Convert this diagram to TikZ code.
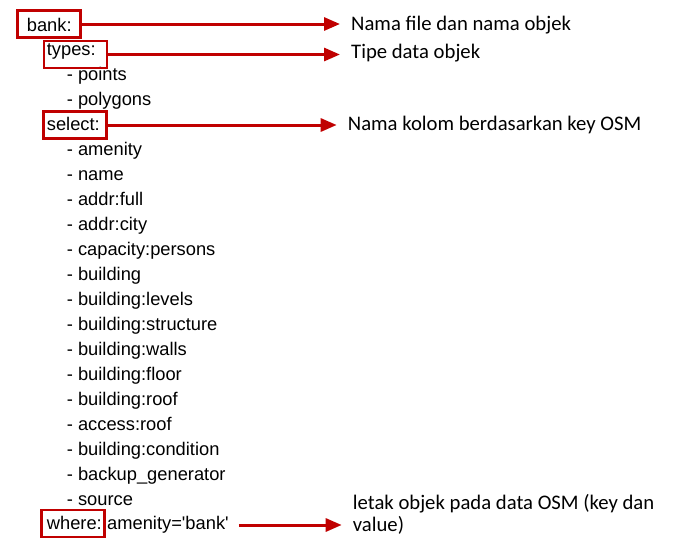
\documentclass[tikz,border=0pt]{standalone}
\usepackage{fontspec}
\setmainfont{Liberation Sans}
\newfontfamily\notefont{Carlito}
\usepackage{xcolor}
\usetikzlibrary{positioning}
\usetikzlibrary{arrows.meta}
\definecolor{osmred}{HTML}{C00000}

\begin{document}
\begin{tikzpicture}[x=1pt,y=-1pt,keybox/.style={draw=osmred,line width=2.2pt,minimum width=63pt,minimum height=27pt,inner sep=0pt},pointer/.style={draw=osmred,line width=3pt,-{Triangle[length=16pt,width=13pt]}},note/.style={anchor=base west,inner xsep=11pt,inner ysep=0pt,font=\notefont\fontsize{20.7}{22.4}\selectfont}]
            \useasboundingbox (0,0) rectangle (689,542);
            \begin{scope}[every node/.style={anchor=base west,inner sep=0pt,text height=13pt,text depth=4pt,font=\fontsize{18.3}{25}\selectfont}]
              \node (bank) at (26.7,31) {bank:};
              \node (types) at (46.7,55) {types:};
              \node (points) at (66.7,80) {- points};
              \node (polygons) at (66.7,105) {- polygons};
              \node (select) at (46.7,130) {select:};
              \foreach \attr [count=\i] in {amenity,name,addr:full,addr:city,capacity:persons,building,building:levels,building:structure,building:walls,building:floor,building:roof,access:roof,building:condition,backup\_generator,source}
                \node (attr\i) at (66.7,130+25*\i) {- \attr};
              \node (where) at (46.7,529.5) {where:};
              \node[right=5pt of where] (whereval) {amenity=\textquotesingle bank\textquotesingle};
            \end{scope}
            \node[keybox] (bankbox) at (49,24) {};
            \node[keybox] (typesbox) at (75.8,54.5) {};
            \node[keybox] (selectbox) at (75,125) {};
            \node[keybox] (wherebox) at (73,523.5) {};
            \node[note] (banknote) at (340,30.7) {Nama file dan nama objek};
            \node[note] (typesnote) at (340,58.3) {Tipe data objek};
            \node[note] (selectnote) at (336.7,130.7) {Nama kolom berdasarkan key OSM};
            \node[note,align=left] (wherenote) at (341.7,531.7) {letak objek pada data OSM (key dan\\value)};
            \draw[pointer] (bankbox.east) -- (bankbox.east -| banknote.west);
            \draw[pointer] (typesbox.east) -- (typesbox.east -| typesnote.west);
            \draw[pointer] (selectbox.east) -- (selectbox.east -| selectnote.west);
            \draw[pointer] ([xshift=10pt]whereval.east) -- (whereval.east -| wherenote.west);
          \end{tikzpicture}
\end{document}
